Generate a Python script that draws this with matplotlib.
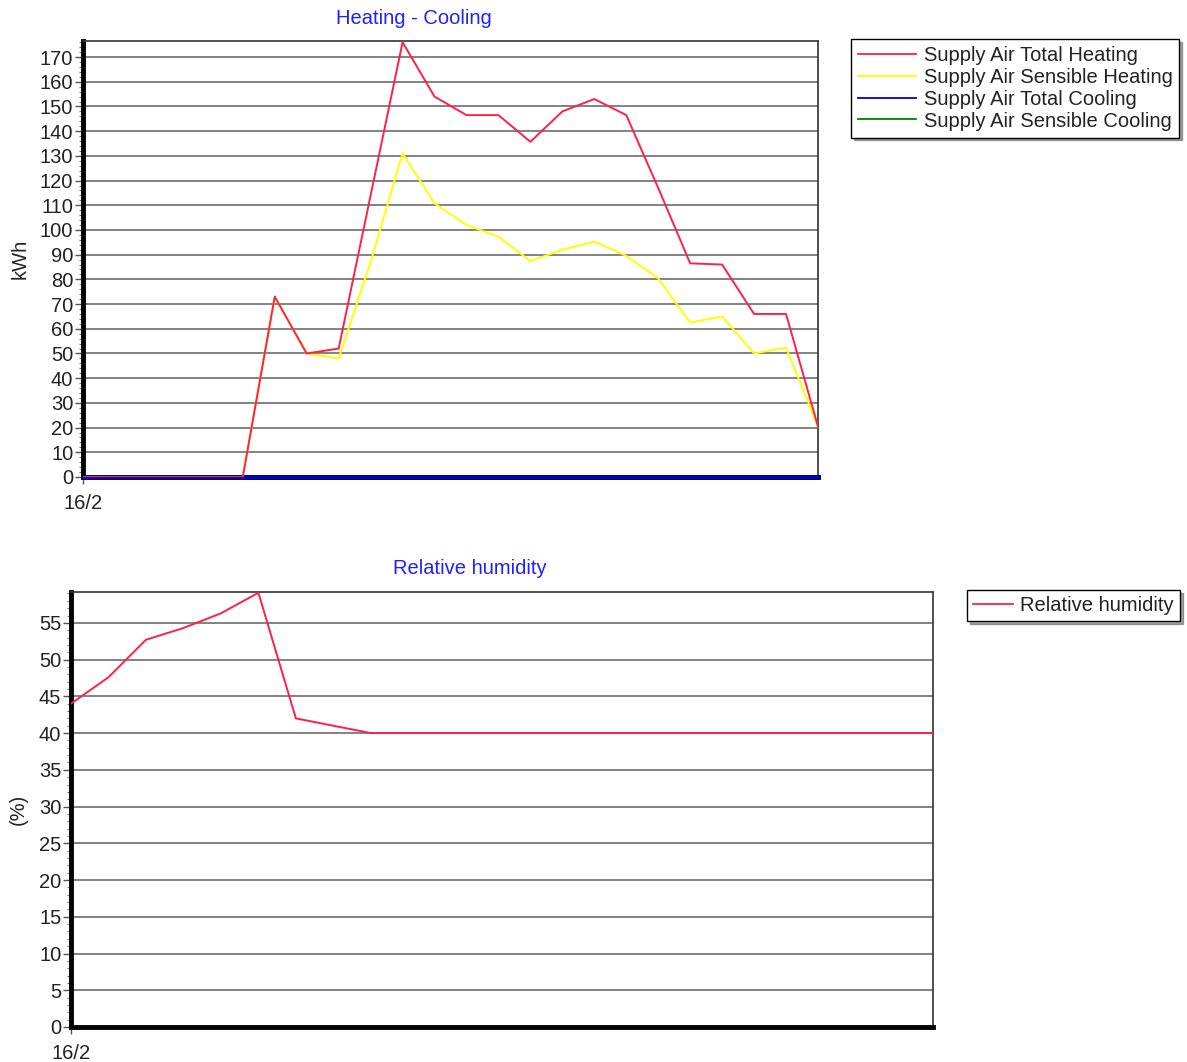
import matplotlib
matplotlib.use("Agg")
import matplotlib.pyplot as plt
from matplotlib.ticker import MultipleLocator, FixedLocator
import numpy as np

plt.rcParams['font.family'] = ['Liberation Sans', 'DejaVu Sans']

hours = list(range(24))
x_tick_labels = ["16/2"]

total_heating = [0, 0, 0, 0, 0, 0, 73, 50, 52, 114, 176, 154, 146.5, 146.5, 135.7, 148,
                 153, 146.5, 117, 86.5, 86, 66, 66, 20.4]
sensible_heating = [0, 0, 0, 0, 0, 0, 73, 50, 48, 87, 131, 110.8, 102, 97.3, 87.4, 92,
                    95.3, 89.5, 80.4, 62.5, 65, 50, 52.4, 20.4]
total_cooling = [0] * 24
sensible_cooling = [0] * 24

humidity = [44.0, 47.6, 52.7, 54.3, 56.3, 59.1, 42.0, 41.0, 40, 40, 40, 40, 40, 40, 40, 40,
            40, 40, 40, 40, 40, 40, 40, 40]

W, H = 1187, 1062
fig = plt.figure(figsize=(W / 100, H / 100), dpi=100)

def fx(px):
    return px / W

def fy(py):
    return 1 - py / H

FS = 14.5
grid_c = '#787878'

def style_axes(ax, major, minor, ymax):
    ax.set_xlim(0, 23)
    ax.set_ylim(0, ymax)
    ax.yaxis.set_major_locator(MultipleLocator(major))
    ax.yaxis.set_minor_locator(MultipleLocator(minor))
    ax.xaxis.set_major_locator(FixedLocator([0]))
    ax.set_xticklabels(x_tick_labels)
    ax.grid(axis='y', which='major', color=grid_c, lw=1.3)
    ax.set_axisbelow(True)
    ax.spines['left'].set_linewidth(3.5)
    ax.spines['bottom'].set_linewidth(3.5)
    ax.spines['top'].set_linewidth(1.2)
    ax.spines['right'].set_linewidth(1.2)
    ax.spines['top'].set_color('#333333')
    ax.spines['right'].set_color('#333333')
    ax.tick_params(axis='y', which='major', length=6, width=1, color='#555555',
                   labelsize=FS, pad=1, labelcolor='#222222')
    ax.tick_params(axis='y', which='minor', length=3, width=0.8, color='#777777')
    ax.tick_params(axis='x', which='major', length=5, width=1, color='#555555',
                   labelsize=FS, pad=7, labelcolor='#222222')

def style_legend(leg):
    leg.get_frame().set_linewidth(1.0)
    for t in leg.get_texts():
        t.set_color('#222222')
    for ln in leg.get_lines():
        ln.set_linewidth(1.3)

# --- Top chart ---
ax1 = fig.add_axes([fx(83), fy(477), fx(818) - fx(83), fy(41) - fy(477)])
style_axes(ax1, 10, 2, 176.5)
ax1.plot(hours, sensible_cooling, color='#008000', lw=1.3, label='Supply Air Sensible Cooling', zorder=3, clip_on=False)
ax1.plot(hours, total_cooling, color='#0000CC', lw=2.5, label='Supply Air Total Cooling', zorder=3, clip_on=False)
ax1.plot(hours, sensible_heating, color='#FFFF00', lw=1.4, label='Supply Air Sensible Heating', zorder=4)
ax1.plot(hours, total_heating, color='#FF2048', lw=1.4, label='Supply Air Total Heating', zorder=5)
ax1.set_ylabel('kWh', fontsize=FS, color='#222222')
ax1.yaxis.set_label_coords(-0.072, 0.5)
hs, ls = ax1.get_legend_handles_labels()
order = [3, 2, 1, 0]
leg1 = fig.legend([hs[i] for i in order], [ls[i] for i in order],
                  loc='upper left', bbox_to_anchor=(fx(851), fy(39)),
                  fontsize=FS, frameon=True, fancybox=False, shadow=True,
                  edgecolor='black', framealpha=1, handlelength=2.9,
                  labelspacing=0.14, borderpad=0.35, handletextpad=0.35, borderaxespad=0)
style_legend(leg1)
fig.text(fx(414), fy(18), 'Heating - Cooling', color='#2020FF', fontsize=FS,
         ha='center', va='center')

# --- Bottom chart ---
ax2 = fig.add_axes([fx(71), fy(1027), fx(933) - fx(71), fy(592) - fy(1027)])
style_axes(ax2, 5, 1, 59.2)
ax2.plot(hours, humidity, color='#FF2048', lw=1.4, label='Relative humidity', zorder=5)
ax2.set_ylabel('(%)', fontsize=FS, color='#222222')
ax2.yaxis.set_label_coords(-0.05, 0.5)
leg2 = fig.legend(loc='upper left', handles=ax2.get_lines(),
                  bbox_to_anchor=(fx(967), fy(590)),
                  fontsize=FS, frameon=True, fancybox=False, shadow=True,
                  edgecolor='black', framealpha=1, handlelength=2.0,
                  borderpad=0.3, handletextpad=0.35, borderaxespad=0)
style_legend(leg2)
fig.text(fx(470), fy(569), 'Relative humidity', color='#2020FF', fontsize=FS,
         ha='center', va='center')

fig.savefig('out.png', dpi=100, facecolor='white')
